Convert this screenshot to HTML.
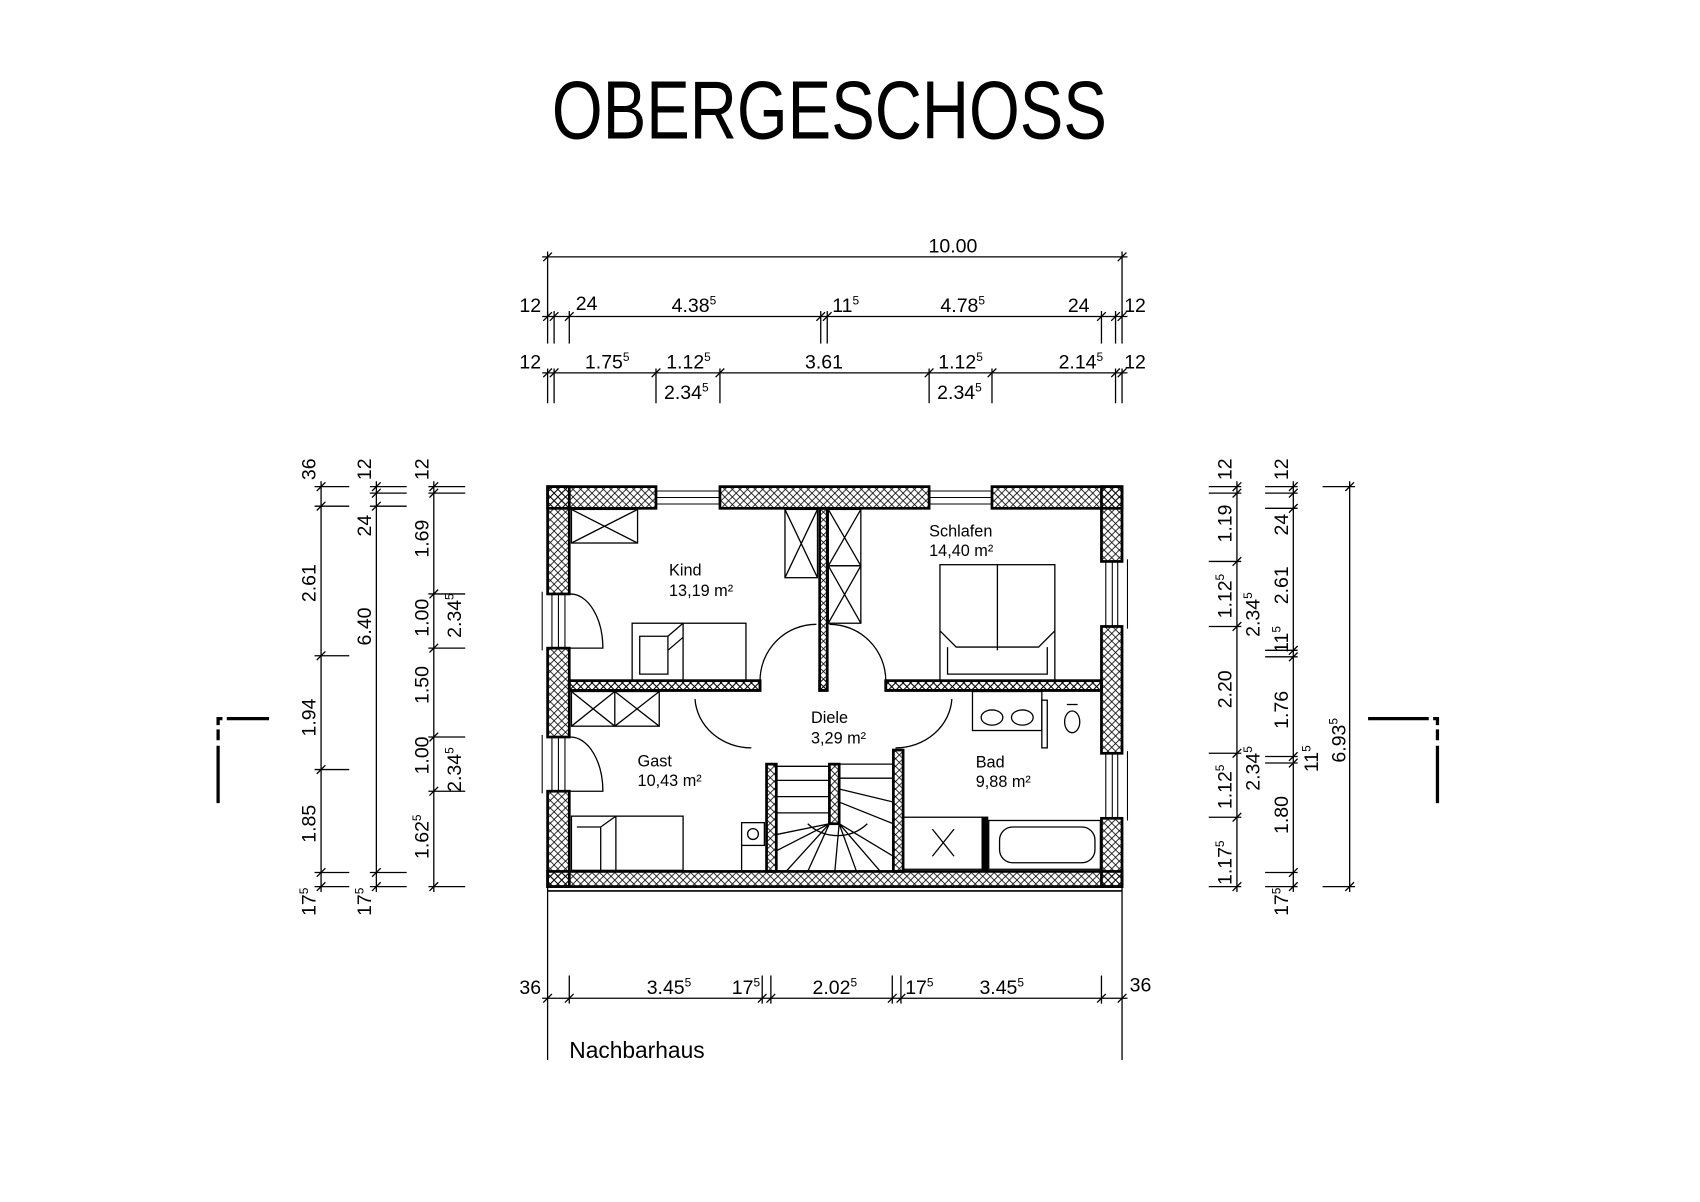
<!DOCTYPE html>
<html><head><meta charset="utf-8"><style>
html,body{margin:0;padding:0;background:#fff}
svg{display:block}
text{font-family:"Liberation Sans",sans-serif;fill:#000}
</style></head><body>
<svg width="1700" height="1202" viewBox="0 0 1568 1109" xmlns="http://www.w3.org/2000/svg">
<defs>
<pattern id="h" width="7" height="7" patternUnits="userSpaceOnUse">
<path d="M0 0L7 7M7 0L0 7" stroke="#000" stroke-width="0.7"/>
</pattern>
</defs>
<rect width="1568" height="1109" fill="#fff"/>
<text x="765" y="128" font-size="76" text-anchor="middle" textLength="512" lengthAdjust="spacingAndGlyphs">OBERGESCHOSS</text>

<g stroke="#000" stroke-width="1.2" fill="none">
<!-- top dims -->
<line x1="500" y1="237" x2="1040" y2="237"/>
<line x1="505" y1="232" x2="505" y2="292"/><line x1="1035" y1="232" x2="1035" y2="292"/>
<path d="M501 241l8-8M1031 241l8-8"/>
<line x1="500" y1="292" x2="1040" y2="292"/>
<g id="t2"><line x1="505" y1="287" x2="505" y2="317"/><line x1="511" y1="287" x2="511" y2="317"/><line x1="525" y1="287" x2="525" y2="317"/><line x1="757" y1="287" x2="757" y2="317"/><line x1="763" y1="287" x2="763" y2="317"/><line x1="1016" y1="287" x2="1016" y2="317"/><line x1="1029" y1="287" x2="1029" y2="317"/><line x1="1035" y1="287" x2="1035" y2="317"/></g>
<path d="M501 296l8-8M507 296l8-8M521 296l8-8M753 296l8-8M759 296l8-8M1012 296l8-8M1025 296l8-8M1031 296l8-8"/>
<line x1="500" y1="344" x2="1040" y2="344"/>
<path d="M505 340v32M511 340v32M605 340v32M664 340v32M857 340v32M915 340v32M1029 340v32M1035 340v32"/>
<path d="M501 348l8-8M507 348l8-8M601 348l8-8M660 348l8-8M853 348l8-8M911 348l8-8M1025 348l8-8M1031 348l8-8"/>

<!-- left dims -->
<line x1="296" y1="444" x2="296" y2="823"/>
<path d="M290 449h32M290 467h32M290 605h32M290 710h32M290 805h32M290 818h32"/>
<path d="M292 453l8-8M292 471l8-8M292 609l8-8M292 714l8-8M292 809l8-8M292 822l8-8"/>
<line x1="347" y1="444" x2="347" y2="823"/>
<path d="M341 449h34M341 455h34M341 467h34M341 805h34M341 818h34"/>
<path d="M343 453l8-8M343 459l8-8M343 471l8-8M343 809l8-8M343 822l8-8"/>
<line x1="400" y1="444" x2="400" y2="823"/>
<path d="M395 449h34M395 455h34M395 548h34M395 598h34M395 680h34M395 730h34M395 818h34"/>
<path d="M396 453l8-8M396 459l8-8M396 552l8-8M396 602l8-8M396 684l8-8M396 734l8-8M396 822l8-8"/>

<!-- right dims -->
<line x1="1141" y1="444" x2="1141" y2="823"/>
<path d="M1115 449h30M1115 455h30M1115 518h30M1115 578h30M1115 695h30M1115 754h30M1115 818h30"/>
<path d="M1137 453l8-8M1137 459l8-8M1137 522l8-8M1137 582l8-8M1137 699l8-8M1137 758l8-8M1137 822l8-8"/>
<line x1="1193" y1="444" x2="1193" y2="823"/>
<path d="M1167 449h30M1167 455h30M1167 469h30M1167 600h30M1167 606h30M1167 698h30M1167 704h30M1167 805h30M1167 818h30"/>
<path d="M1189 453l8-8M1189 459l8-8M1189 473l8-8M1189 604l8-8M1189 610l8-8M1189 702l8-8M1189 708l8-8M1189 809l8-8M1189 822l8-8"/>
<line x1="1245" y1="444" x2="1245" y2="823"/>
<path d="M1220 449h30M1220 818h30"/>
<path d="M1241 453l8-8M1241 822l8-8"/>

<!-- bottom dims -->
<line x1="505" y1="818" x2="505" y2="978"/><line x1="1035" y1="818" x2="1035" y2="978"/>
<line x1="500" y1="921" x2="1040" y2="921"/>
<path d="M525 900v26M703 900v26M711 900v26M823 900v26M831 900v26M1016 900v26"/>
<path d="M501 925l8-8M521 925l8-8M699 925l8-8M707 925l8-8M819 925l8-8M827 925l8-8M1012 925l8-8M1031 925l8-8"/>
</g>

<!-- section markers -->
<g stroke="#000" stroke-width="3" fill="none">
<path d="M201 741V688M201 683v-10M201 669v-6h4M209 663h39"/>
<path d="M1326 741V688M1326 683v-10M1326 669v-6h-4M1318 663h-56"/>
</g>

<!-- dimension labels -->
<g font-size="18">
<text x="879" y="233" text-anchor="middle">10.00</text>
<text x="489" y="288" text-anchor="middle">12</text>
<text x="541" y="286" text-anchor="middle">24</text>
<text x="640" y="288" text-anchor="middle">4.38<tspan font-size="11" dy="-7">5</tspan></text>
<text x="780" y="288" text-anchor="middle">11<tspan font-size="11" dy="-7">5</tspan></text>
<text x="888" y="288" text-anchor="middle">4.78<tspan font-size="11" dy="-7">5</tspan></text>
<text x="995" y="288" text-anchor="middle">24</text>
<text x="1047" y="288" text-anchor="middle">12</text>
<text x="489" y="340" text-anchor="middle">12</text>
<text x="560" y="340" text-anchor="middle">1.75<tspan font-size="11" dy="-7">5</tspan></text>
<text x="635" y="340" text-anchor="middle">1.12<tspan font-size="11" dy="-7">5</tspan></text>
<text x="760" y="340" text-anchor="middle">3.61</text>
<text x="886" y="340" text-anchor="middle">1.12<tspan font-size="11" dy="-7">5</tspan></text>
<text x="997" y="340" text-anchor="middle">2.14<tspan font-size="11" dy="-7">5</tspan></text>
<text x="1047" y="340" text-anchor="middle">12</text>
<text x="633" y="368" text-anchor="middle">2.34<tspan font-size="11" dy="-7">5</tspan></text>
<text x="885" y="368" text-anchor="middle">2.34<tspan font-size="11" dy="-7">5</tspan></text>

<text x="489" y="917" text-anchor="middle">36</text>
<text x="617" y="917" text-anchor="middle">3.45<tspan font-size="11" dy="-7">5</tspan></text>
<text x="688" y="917" text-anchor="middle">17<tspan font-size="11" dy="-7">5</tspan></text>
<text x="770" y="917" text-anchor="middle">2.02<tspan font-size="11" dy="-7">5</tspan></text>
<text x="848" y="917" text-anchor="middle">17<tspan font-size="11" dy="-7">5</tspan></text>
<text x="924" y="917" text-anchor="middle">3.45<tspan font-size="11" dy="-7">5</tspan></text>
<text x="1052" y="915" text-anchor="middle">36</text>
<text x="525" y="976" font-size="21">Nachbarhaus</text>

<g transform="rotate(-90)">
<!-- left col1 x=290 -->
<text x="-433" y="291" text-anchor="middle">36</text>
<text x="-538" y="291" text-anchor="middle">2.61</text>
<text x="-662" y="291" text-anchor="middle">1.94</text>
<text x="-760" y="291" text-anchor="middle">1.85</text>
<text x="-832" y="291" text-anchor="middle">17<tspan font-size="11" dy="-7">5</tspan></text>
<text x="-433" y="342" text-anchor="middle">12</text>
<text x="-485" y="342" text-anchor="middle">24</text>
<text x="-578" y="342" text-anchor="middle">6.40</text>
<text x="-832" y="342" text-anchor="middle">17<tspan font-size="11" dy="-7">5</tspan></text>
<text x="-433" y="395" text-anchor="middle">12</text>
<text x="-497" y="395" text-anchor="middle">1.69</text>
<text x="-570" y="395" text-anchor="middle">1.00</text>
<text x="-632" y="395" text-anchor="middle">1.50</text>
<text x="-697" y="395" text-anchor="middle">1.00</text>
<text x="-772" y="395" text-anchor="middle">1.62<tspan font-size="11" dy="-7">5</tspan></text>
<text x="-568" y="425" text-anchor="middle">2.34<tspan font-size="11" dy="-7">5</tspan></text>
<text x="-710" y="425" text-anchor="middle">2.34<tspan font-size="11" dy="-7">5</tspan></text>
<!-- right -->
<text x="-433" y="1136" text-anchor="middle">12</text>
<text x="-483" y="1136" text-anchor="middle">1.19</text>
<text x="-550" y="1136" text-anchor="middle">1.12<tspan font-size="11" dy="-7">5</tspan></text>
<text x="-636" y="1136" text-anchor="middle">2.20</text>
<text x="-726" y="1136" text-anchor="middle">1.12<tspan font-size="11" dy="-7">5</tspan></text>
<text x="-796" y="1136" text-anchor="middle">1.17<tspan font-size="11" dy="-7">5</tspan></text>
<text x="-567" y="1162" text-anchor="middle">2.34<tspan font-size="11" dy="-7">5</tspan></text>
<text x="-709" y="1162" text-anchor="middle">2.34<tspan font-size="11" dy="-7">5</tspan></text>
<text x="-433" y="1188" text-anchor="middle">12</text>
<text x="-484" y="1188" text-anchor="middle">24</text>
<text x="-540" y="1188" text-anchor="middle">2.61</text>
<text x="-590" y="1188" text-anchor="middle">11<tspan font-size="11" dy="-7">5</tspan></text>
<text x="-655" y="1188" text-anchor="middle">1.76</text>
<text x="-752" y="1188" text-anchor="middle">1.80</text>
<text x="-832" y="1188" text-anchor="middle">17<tspan font-size="11" dy="-7">5</tspan></text>
<text x="-700" y="1216" text-anchor="middle">11<tspan font-size="11" dy="-7">5</tspan></text>
<text x="-683" y="1241" text-anchor="middle">6.93<tspan font-size="11" dy="-7">5</tspan></text>
</g>
</g>

<!-- walls -->
<g fill="url(#h)" stroke="#000" stroke-width="2.5">
<!-- top -->
<rect x="505" y="449" width="100" height="20"/>
<rect x="664" y="449" width="193" height="20"/>
<rect x="915" y="449" width="120" height="20"/>
<!-- left -->
<rect x="505" y="449" width="20" height="99"/>
<rect x="505" y="598" width="20" height="82"/>
<rect x="505" y="730" width="20" height="88"/>
<!-- right -->
<rect x="1016" y="449" width="19" height="69"/>
<rect x="1016" y="578" width="19" height="117"/>
<rect x="1016" y="755" width="19" height="63"/>
<!-- bottom -->
<rect x="505" y="804" width="530" height="14"/>
<!-- interior -->
<rect x="525" y="628" width="176" height="9"/>
<rect x="817" y="628" width="199" height="9"/>
<rect x="756" y="469" width="7" height="168"/>
<rect x="707" y="705" width="9" height="99"/>
<rect x="824" y="692" width="9" height="112"/>
<rect x="765" y="705" width="9" height="55"/>
</g>
<!-- fill interiors white to clean overlaps -->
<g fill="#fff" stroke="none">
<rect x="526.5" y="470.5" width="488" height="156.5"/>
</g>
<g fill="url(#h)" stroke="#000" stroke-width="2.5">
<rect x="756" y="469" width="7" height="168"/>
<rect x="525" y="628" width="176" height="9"/>
<rect x="817" y="628" width="199" height="9"/>
</g>
<line x1="505" y1="822" x2="1035" y2="822" stroke="#000" stroke-width="1.5"/>

<!-- windows -->
<g stroke="#000" stroke-width="1" fill="none">
<path d="M605 453h59M605 459h59M605 465h59"/>
<path d="M857 453h58M857 459h58M857 465h58"/>
<path d="M509 548v50M515 548v50M521 548v50M500 546v54"/>
<path d="M509 680v50M515 680v50M521 680v50M500 678v54"/>
<path d="M1020 518v60M1026 518v60M1031 518v60M1040 516v64"/>
<path d="M1020 695v60M1026 695v60M1031 695v60M1040 693v64"/>
</g>

<!-- doors / furniture -->
<g stroke="#000" stroke-width="1.2" fill="none">
<path d="M526 548A30 50 0 0 1 556 598H526"/>
<path d="M526 680A30 50 0 0 1 556 730H526"/>
<path d="M701 628A52 52 0 0 1 753 576"/>
<path d="M765 576A52 52 0 0 1 817 628"/>
<path d="M641 645A52 48 0 0 0 693 690"/>
<path d="M878 645A52 48 0 0 1 826 690"/>
<!-- Kind wardrobe -->
<rect x="527" y="470" width="61" height="31"/><path d="M527 470L588 501M588 470L527 501"/>
<!-- center closets -->
<rect x="724" y="470" width="30" height="63"/><path d="M724 470L754 533M754 470L724 533"/>
<rect x="764" y="470" width="30" height="52"/><path d="M764 470L794 522M794 470L764 522"/>
<rect x="764" y="522" width="30" height="53"/><path d="M764 522L794 575M794 522L764 575"/>
<!-- Kind bed -->
<rect x="583" y="575" width="105" height="53"/>
<path d="M630 575v53M590 587h26v35h-26zM616 587l14-12M616 600l14-12"/>
<!-- Schlafen bed -->
<rect x="867" y="521" width="106" height="107"/>
<line x1="920" y1="521" x2="920" y2="600"/>
<path d="M867 582l15 15h76l15-15M874 597v25h92v-25"/>
<!-- Gast closet -->
<rect x="527" y="638" width="81" height="32"/><path d="M527 638L567 670M567 638L527 670M567 638L608 670M608 638L567 670M567 638v32"/>
<!-- Gast bed -->
<rect x="527" y="753" width="103" height="50"/>
<path d="M532 763h22v40M554 763l14-10M568 753v50"/>
<!-- kitchen -->
<rect x="684" y="759" width="21" height="21"/><circle cx="694.5" cy="769.5" r="5"/>
<path d="M684 780v23"/>
<!-- Bad -->
<rect x="897" y="638" width="64" height="36"/>
<ellipse cx="915" cy="662" rx="10" ry="7"/><ellipse cx="943" cy="662" rx="10" ry="7"/>
<rect x="961" y="646" width="5" height="44"/>
<path d="M984 650h10"/><ellipse cx="989" cy="666" rx="7" ry="10"/>
<rect x="833" y="754" width="73" height="48"/>
<path d="M860 765L880 790M880 765L860 790"/>
<rect x="906" y="754" width="5" height="50" fill="#000"/>
<rect x="912" y="757" width="103" height="45"/>
<rect x="922" y="763" width="88" height="33" rx="12"/>
<!-- stairs -->
<path d="M716 707h49M716 720h49M716 735h49M716 750h49M774 718h50M774 705h50"/>
<path d="M765 760L716 770M765 760L716 785M765 760L725 804M765 760L745 804M774 760L770 804M774 760L790 804M774 760L812 804M774 760L824 790M774 740L824 760M774 728L824 740"/>
<path d="M745 760A40 40 0 0 0 800 760"/>
</g>

<!-- room labels -->
<g font-size="15">
<text x="617" y="531">Kind</text><text x="617" y="550">13,19 m²</text>
<text x="857" y="495">Schlafen</text><text x="857" y="513">14,40 m²</text>
<text x="748" y="667">Diele</text><text x="748" y="686">3,29 m²</text>
<text x="588" y="707">Gast</text><text x="588" y="725">10,43 m²</text>
<text x="900" y="708">Bad</text><text x="900" y="726">9,88 m²</text>
</g>
</svg>
</body></html>
